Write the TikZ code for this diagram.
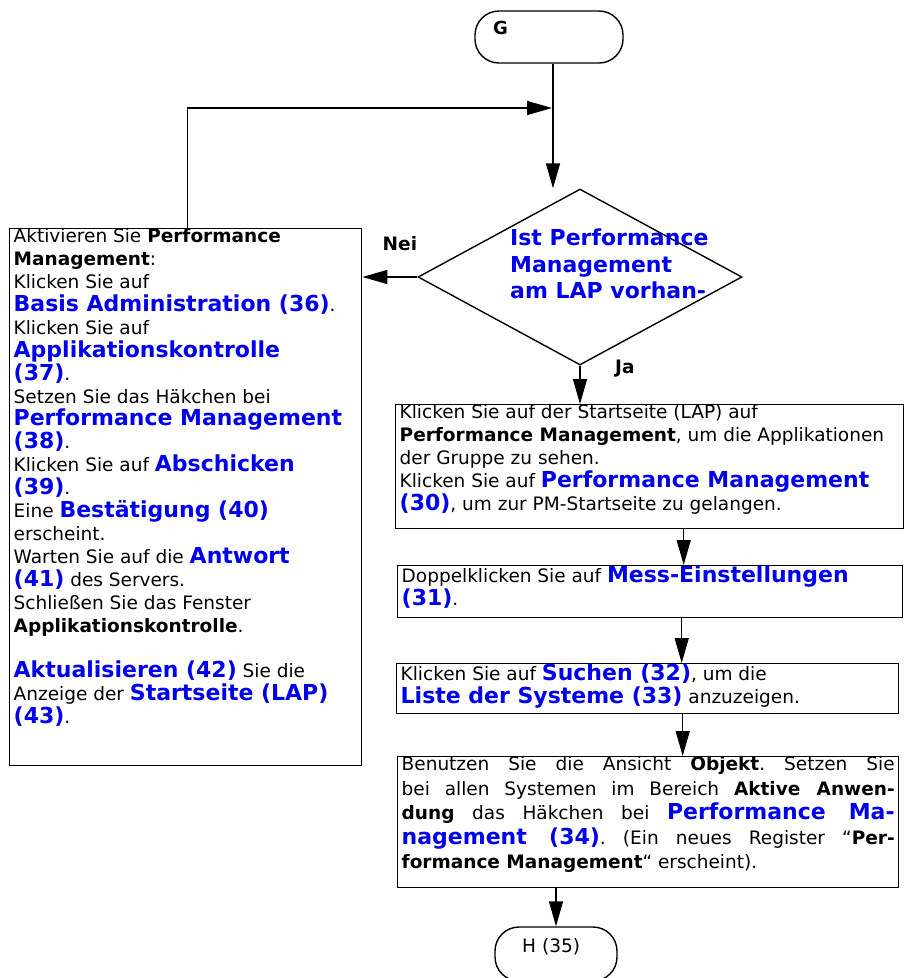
\documentclass[tikz,border=0pt]{standalone}
\usepackage{fontspec}
\setmainfont{DejaVu Sans}
\usetikzlibrary{shapes.geometric,arrows.meta,positioning}
\definecolor{pmblue}{RGB}{0,0,235}
\newcommand{\linkbf}[1]{{\fontsize{22}{22.9}\selectfont\bfseries\color{pmblue}#1}}
\newcommand{\boxtext}[3]{\parbox[c][#2][t]{#1}{\frenchspacing #3}}

\begin{document}
\begin{tikzpicture}[x=1pt, y=1pt,
		% Node styles
		terminal/.style={draw, line width=1.4pt, rectangle, rounded corners=24pt,
				minimum height=52pt, inner xsep=0pt, inner ysep=0pt, text depth=18pt, align=left},
		decision/.style={draw, diamond, line width=1.4pt, minimum width=324pt,
				minimum height=176pt, inner sep=0pt},
		decisiontext/.style={text=pmblue, font=\fontsize{22}{26.5}\selectfont\bfseries,
				align=left, inner sep=0pt},
		stepbox/.style={draw, line width=1.4pt, anchor=north west, inner xsep=4pt, inner ysep=0pt},
		flowlabel/.style={font=\fontsize{18.5}{22}\selectfont\bfseries, inner sep=0pt},
		flow/.style={-{Triangle[length=25pt, width=14pt]}, draw=black, line width=1.4pt},
		font=\fontsize{18.5}{22.9}\selectfont
	]

	\useasboundingbox (0,0) rectangle (907,-978);

	% Start and decision
	\node[terminal, minimum width=148pt, text width=112pt,
		font=\fontsize{18}{22}\selectfont\bfseries] (start) at (549,-37) {G};
	\node[decision] (chk) at (580,-277) {};
	\node[decisiontext, anchor=north west] (chktext) at (510,-229)
		{Ist Performance\\Management\\am LAP vorhan-};

	% Activation steps (Nei)
	\node[stepbox] (undo) at (9,-228) {\boxtext{344pt}{537pt}{%
		Aktivieren Sie \textbf{Performance}\\
		\textbf{Management}:\\
		Klicken Sie auf\\
		\linkbf{Basis Administration (36)}.\\
		Klicken Sie auf\\
		\linkbf{Applikationskontrolle}\\
		\linkbf{(37)}.\\
		Setzen Sie das Häkchen bei\\
		\linkbf{Performance Management}\\
		\linkbf{(38)}.\\
		Klicken Sie auf \linkbf{Abschicken}\\
		\linkbf{(39)}.\\
		Eine \linkbf{Bestätigung (40)}\\
		erscheint.\\
		Warten Sie auf die \linkbf{Antwort}\\
		\linkbf{(41)} des Servers.\\
		Schließen Sie das Fenster\\
		\textbf{Applikationskontrolle}.\\
		\mbox{}\\
		\linkbf{Aktualisieren (42)} Sie die\\
		Anzeige der \linkbf{Startseite (LAP)}\\
		\linkbf{(43)}.}};

	% Main steps (Ja)
	\node[stepbox] (step1) at (395,-404) {\boxtext{500pt}{124pt}{%
		Klicken Sie auf der Startseite (LAP) auf\\
		\textbf{Performance Management}, um die Applikationen\\
		der Gruppe zu sehen.\\
		Klicken Sie auf \linkbf{Performance Management}\\
		\linkbf{(30)}, um zur PM-Startseite zu gelangen.}};
	\node[stepbox] (step2) at (397,-565) {\boxtext{497pt}{52pt}{%
		Doppelklicken Sie auf \linkbf{Mess-Einstellungen}\\
		\linkbf{(31)}.}};
	\node[stepbox] (step3) at (396,-663) {\boxtext{494pt}{50pt}{%
		Klicken Sie auf \linkbf{Suchen (32)}, um die\\
		\linkbf{Liste der Systeme (33)} anzuzeigen.}};
	\node[stepbox] (step4) at (397,-756) {\fontsize{18.5}{24.5}\selectfont\boxtext{493pt}{131pt}{%
		Benutzen Sie die Ansicht \textbf{Objekt}. Setzen Sie\linebreak
		bei allen Systemen im Bereich \textbf{Aktive Anwen-}\linebreak
		\textbf{dung} das Häkchen bei \linkbf{Performance Ma-}\linebreak
		\linkbf{nagement (34)}. (Ein neues Register “\textbf{Per-}\linebreak
		\textbf{formance Management}“ erscheint).}};

	% End
	\node[terminal, minimum width=122pt, minimum height=54pt, text width=68pt] (stop) at (556,-954) {H (35)};

	% Branch labels
	\node[flowlabel, anchor=south east] (nei) at ([yshift=26pt]chk.west) {Nei};
	\node[flowlabel, anchor=base west] (ja) at ([xshift=35pt, yshift=-8pt]chk.south) {Ja};

	% Connections
	\coordinate (merge) at (552,-108);
	\draw[flow] ([xshift=4pt]start.south) -- ([xshift=4pt]start.south |- chk.north);
	\draw[flow] ([xshift=2pt]undo.north) |- (merge);
	\draw[flow] (chk.west) -- (chk.west -| undo.east);
	\draw[flow] (chk.south) -- (chk.south |- step1.north);
	\draw[flow] ([xshift=34pt]step1.south) -- ([xshift=34pt]step1.south |- step2.north);
	\draw[flow] ([xshift=31.5pt]step2.south) -- ([xshift=31.5pt]step2.south |- step3.north);
	\draw[flow] ([xshift=35pt]step3.south) -- ([xshift=35pt]step3.south |- step4.north);
	\draw[flow] (step4.south -| stop.north) -- (stop.north);

\end{tikzpicture}
\end{document}
